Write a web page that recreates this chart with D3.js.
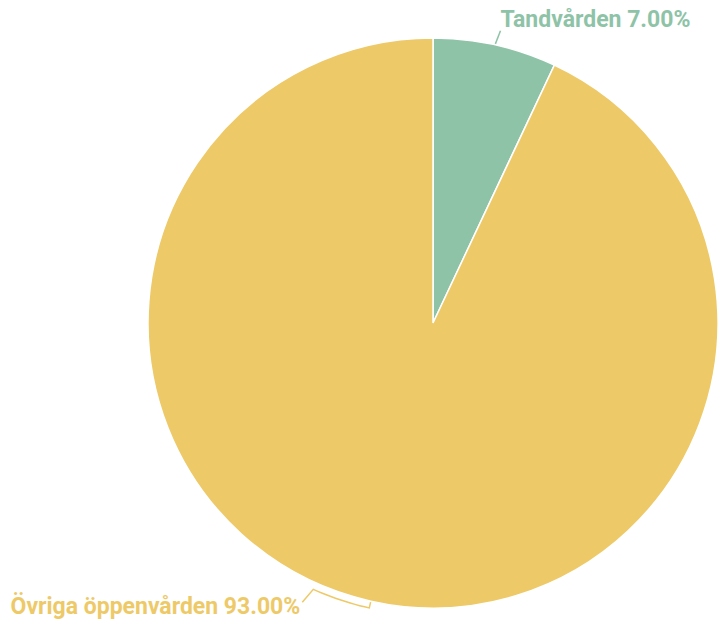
<!DOCTYPE html>
<html>
<head>
<meta charset="utf-8">
<script src="https://cdn.jsdelivr.net/npm/d3@7"></script>
<style>
  html, body { margin: 0; padding: 0; background: #fff; }
  svg { display: block; }
  .lbl { font-family: Roboto, "Open Sans", sans-serif; font-weight: 700; }
</style>
</head>
<body>
<svg id="chart" width="725" height="627"></svg>
<script>
// Share of outpatient care costs
const categories = ["Tandvården", "Övriga öppenvården"];
const shares = [7.00, 93.00];
const colors = ["#8EC3A7", "#EEC968"];

const width = 725, height = 627;
const cx = 433, cy = 323, radius = 285;

const svg = d3.select("#chart");
const g = svg.append("g").attr("transform", `translate(${cx},${cy})`);

const data = categories.map((c, i) => ({ name: c, value: shares[i], color: colors[i] }));

const pie = d3.pie().value(d => d.value).sort(null);
const arcs = pie(data);
const arc = d3.arc().innerRadius(0).outerRadius(radius);

g.selectAll("path.slice")
  .data(arcs)
  .enter().append("path")
  .attr("class", "slice")
  .attr("d", arc)
  .attr("fill", d => d.data.color)
  .attr("stroke", "#fff")
  .attr("stroke-width", 1.5);

// polar helper: angle measured clockwise from 12 o'clock
const pt = (a, r) => [r * Math.sin(a), -r * Math.cos(a)];
const deg = Math.PI / 180;
const fmt = d3.format(".2f");

// Tandvården: short radial leader, text to the right
{
  const d = arcs[0];
  const mid = (d.startAngle + d.endAngle) / 2;
  const p0 = pt(mid, radius + 1), p1 = pt(mid + 0.4 * deg, radius + 15);
  g.append("polyline")
    .attr("points", [p0, p1].map(p => p.join(",")).join(" "))
    .attr("fill", "none").attr("stroke", d.data.color).attr("stroke-width", 1.5);
  g.append("text").attr("class", "lbl")
    .attr("x", p1[0]).attr("y", p1[1] - 4)
    .attr("font-size", 23)
    .attr("fill", d.data.color)
    .text(`${d.data.name} ${fmt(d.data.value)}%`);
}

// Övriga öppenvården: leader follows the rim, then drops to the label
{
  const d = arcs[1];
  const mid = (d.startAngle + d.endAngle) / 2;
  const rOut = radius + 7;
  const aEnd = 204.2 * deg;
  const pts = [pt(mid, radius + 1), pt(mid, rOut)];
  const steps = 12;
  for (let i = 1; i <= steps; i++) pts.push(pt(mid + (aEnd - mid) * i / steps, rOut));
  const last = pts[pts.length - 1];
  const tail = [last[0] - 11, last[1] + 13];
  pts.push(tail);
  g.append("polyline")
    .attr("points", pts.map(p => p.join(",")).join(" "))
    .attr("fill", "none").attr("stroke", d.data.color).attr("stroke-width", 1.5);
  g.append("text").attr("class", "lbl")
    .attr("x", tail[0] - 2).attr("y", tail[1] + 12)
    .attr("text-anchor", "end")
    .attr("font-size", 23)
    .attr("fill", d.data.color)
    .text(`${d.data.name} ${fmt(d.data.value)}%`);
}
</script>
</body>
</html>
